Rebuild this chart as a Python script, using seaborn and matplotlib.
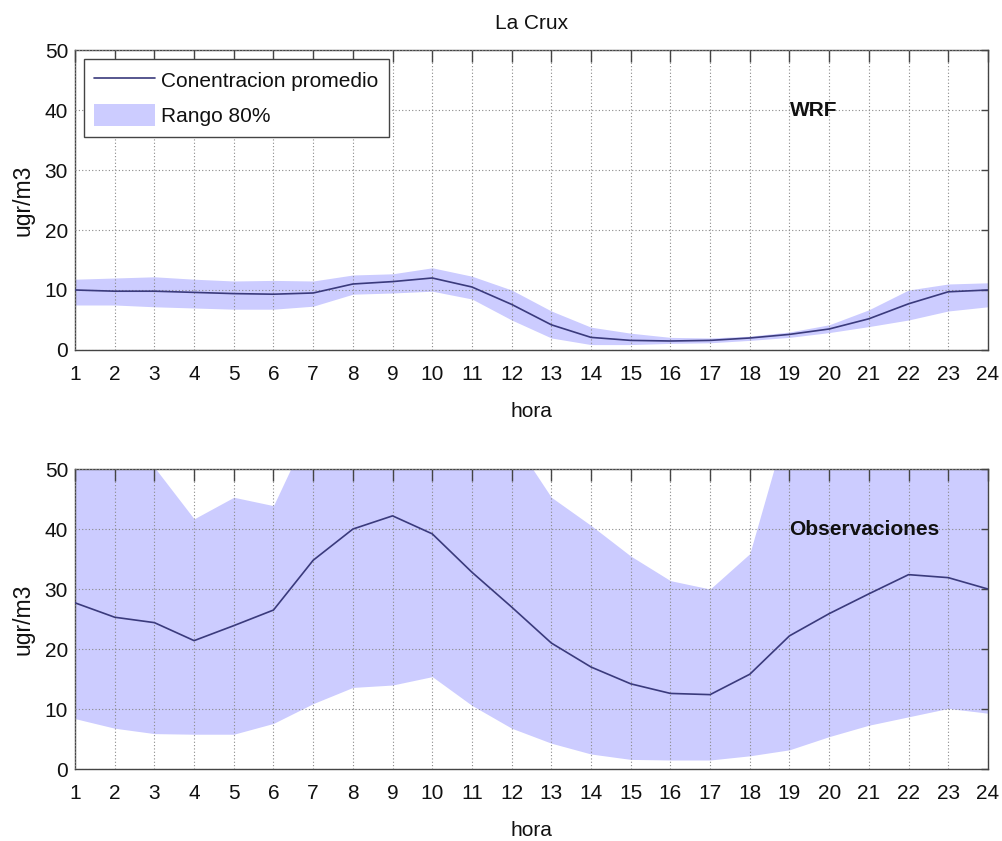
import matplotlib
matplotlib.use("Agg")
import matplotlib.pyplot as plt
import pandas as pd
import seaborn as sns

horas = list(range(1, 25))

# WRF (panel superior)
wrf_media = [10.0, 9.8, 9.8, 9.6, 9.4, 9.3, 9.5, 11.0, 11.4, 12.0, 10.5, 7.6,
             4.2, 2.1, 1.6, 1.5, 1.6, 2.0, 2.6, 3.5, 5.2, 7.7, 9.7, 10.0]
wrf_sup = [11.8, 12.0, 12.2, 11.8, 11.5, 11.6, 11.5, 12.5, 12.7, 13.7, 12.3, 10.0,
           6.5, 3.8, 2.8, 2.1, 2.0, 2.3, 3.0, 4.2, 6.7, 10.0, 11.0, 11.2]
wrf_inf = [7.5, 7.5, 7.2, 7.0, 6.8, 6.8, 7.3, 9.3, 9.5, 9.8, 8.5, 5.0,
           2.0, 0.9, 0.9, 1.1, 1.2, 1.6, 2.1, 2.9, 3.9, 5.0, 6.5, 7.2]

# Observaciones (panel inferior)
obs_media = [27.7, 25.3, 24.4, 21.4, 23.9, 26.5, 34.8, 40.0, 42.2, 39.2, 32.8, 27.0,
             21.0, 17.0, 14.2, 12.6, 12.4, 15.8, 22.2, 25.9, 29.2, 32.4, 31.9, 30.0]
obs_sup = [58.0, 56.0, 50.3, 41.7, 45.3, 43.9, 58.0, 62.0, 64.0, 63.0, 60.0, 55.3,
           45.3, 40.6, 35.5, 31.4, 30.0, 35.9, 59.0, 62.0, 64.0, 65.0, 64.0, 63.0]
obs_inf = [8.4, 6.8, 5.9, 5.8, 5.8, 7.6, 10.9, 13.6, 14.0, 15.4, 10.6, 6.8,
           4.3, 2.5, 1.6, 1.5, 1.5, 2.2, 3.2, 5.4, 7.3, 8.7, 10.1, 9.3]

linea_color = "#3a3a7c"
banda_color = "#ccccff"
eje_color = "#444444"

sns.set_style("white")
plt.rcParams["font.family"] = ["Liberation Sans", "DejaVu Sans"]
plt.rcParams["text.color"] = "#111111"
plt.rcParams["axes.labelcolor"] = "#111111"
plt.rcParams["xtick.labelcolor"] = "#111111"
plt.rcParams["ytick.labelcolor"] = "#111111"

fig, axes = plt.subplots(2, 1, figsize=(10.03, 8.41), dpi=100)
fig.subplots_adjust(left=0.0748, right=0.985, top=0.9405, bottom=0.0856, hspace=0.397)

paneles = [
    (axes[0], wrf_media, wrf_inf, wrf_sup, "WRF"),
    (axes[1], obs_media, obs_inf, obs_sup, "Observaciones"),
]

for i, (ax, media, inf, sup, etiqueta) in enumerate(paneles):
    df = pd.DataFrame({"hora": horas, "media": media, "inf": inf, "sup": sup})
    ax.fill_between(df["hora"], df["inf"], df["sup"], color=banda_color,
                    linewidth=0, label="Rango 80%", zorder=1)
    sns.lineplot(data=df, x="hora", y="media", ax=ax, color=linea_color,
                 linewidth=1.2, label="Conentracion promedio", zorder=3)
    ax.set_xlim(1, 24)
    ax.set_ylim(0, 50)
    ax.set_xticks(horas)
    ax.set_yticks([0, 10, 20, 30, 40, 50])
    ax.grid(True, linestyle=(0, (1, 2)), color="#8a8a8a", linewidth=0.8, zorder=2)
    ax.set_axisbelow(False)
    ax.tick_params(direction="in", top=True, right=True, labelsize=15,
                   color=eje_color, width=1.0)
    ax.tick_params(axis="x", length=8.5, pad=11)
    ax.tick_params(axis="y", length=5, pad=5)
    for s in ax.spines.values():
        s.set_color(eje_color)
        s.set_linewidth(1.0)
    ax.set_xlabel("hora", fontsize=15, labelpad=13)
    ax.set_ylabel("ugr/m3", fontsize=16.5, labelpad=7)
    ax.text(19.0, 40, etiqueta, fontsize=15, fontweight="bold",
            ha="left", va="center", zorder=5)
    if i == 0:
        h, l = ax.get_legend_handles_labels()
        orden = [l.index("Conentracion promedio"), l.index("Rango 80%")]
        leg = ax.legend([h[j] for j in orden], [l[j] for j in orden],
                        loc="upper left", fontsize=15, frameon=True,
                        fancybox=False, edgecolor=eje_color, framealpha=1,
                        borderaxespad=0.42, borderpad=0.5, labelspacing=0.65,
                        handlelength=2.9, handleheight=1.2, handletextpad=0.3)
        leg.get_frame().set_linewidth(1.0)
        leg.set_zorder(10)
        ax.set_title("La Crux", fontsize=15, pad=15)
    else:
        ax.get_legend().remove()

fig.savefig("out.png", dpi=100)
